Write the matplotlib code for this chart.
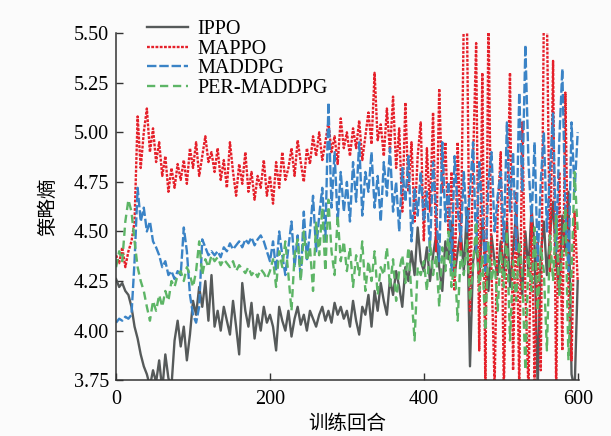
import numpy as np
import matplotlib
matplotlib.use("Agg")
import matplotlib.pyplot as plt

plt.rcParams['font.family'] = ['Liberation Serif', 'Noto Sans CJK SC']
plt.rcParams['axes.unicode_minus'] = False

# episodes, every 4th point
episodes = np.arange(0, 601, 4)

ippo = [4.26, 4.22, 4.24, 4.20, 4.18, 4.12,
        4.02, 3.96, 3.88, 3.82,
        3.78, 3.72, 3.80, 3.74, 3.85, 3.70, 3.88, 3.76, 3.72,
        3.95, 4.05, 3.92, 4.02, 3.85, 3.98,
        4.15, 4.08, 4.22, 4.12, 4.25, 4.05, 4.28,
        4.02, 4.10, 4.00, 4.12, 4.05, 3.98, 4.15, 4.02, 3.88, 4.24, 4.10, 4.02, 4.14, 3.96, 4.08, 4.00, 4.12, 4.04,
        4.08, 4.02, 3.90, 4.12, 4.05, 4.00, 4.10, 3.97, 4.06, 4.12, 4.03, 4.08, 4.00, 4.10, 4.06, 4.02, 4.08, 4.12, 4.05, 4.10, 4.04, 4.14, 4.08, 4.12, 4.06,
        4.10, 4.02, 4.15, 4.05, 3.98, 4.12, 4.08, 4.18, 4.02, 4.20, 4.10, 4.24, 4.15, 4.08, 4.26, 4.18, 4.30, 4.22, 4.12, 4.32, 4.25, 4.40, 4.28, 4.52, 4.35,
        4.30, 4.42, 4.25, 4.38, 4.48, 4.32, 4.20, 4.45, 4.36, 4.55, 4.28, 4.40, 4.50, 4.30, 4.62, 3.82, 4.35, 4.45, 4.25, 4.55, 4.38, 4.20, 4.48, 4.35, 4.28,
        4.45, 4.30, 4.55, 4.22, 4.40, 4.60, 4.35, 4.18, 4.50, 4.30, 4.62, 4.42, 3.70, 4.38, 4.55, 4.28, 4.48, 4.65, 4.35, 4.20, 4.58, 4.40, 4.70, 3.78, 3.70, 4.25]

mappo = [4.38, 4.34, 4.42, 4.32, 4.40, 4.45,
         4.55, 5.08, 4.82, 5.00,
         5.12, 4.90, 5.02, 4.85, 4.95, 4.78, 4.88, 4.70, 4.82,
         4.72, 4.84, 4.76, 4.86, 4.74, 4.92,
         4.82, 4.95, 4.78, 4.88, 4.98, 4.85, 4.90,
         4.80, 4.92, 4.76, 4.86, 4.72, 4.95, 4.80, 4.68, 4.84, 4.74, 4.90, 4.70, 4.80, 4.66, 4.78, 4.72, 4.86, 4.68,
         4.78, 4.64, 4.85, 4.72, 4.90, 4.76, 4.82, 4.92, 4.78, 4.96, 4.85, 4.75, 4.92, 4.84, 4.98, 4.88, 5.00, 4.86, 4.95, 5.05, 4.90, 4.98, 4.84, 5.07, 4.92,
         5.00, 4.88, 5.02, 4.92, 5.06, 4.86, 4.98, 5.10, 4.94, 5.30, 4.96, 5.04, 4.88, 5.12, 4.90, 5.18, 4.82, 5.02, 4.60, 5.15, 4.70, 4.95, 4.55, 4.88, 5.05,
         4.45, 4.92, 4.60, 5.10, 4.40, 5.22, 4.70, 4.95, 4.50, 4.80, 4.20, 4.95, 4.40, 5.60, 5.60, 4.10, 4.85, 5.45, 3.90, 5.30, 3.70, 5.60, 4.30, 3.72, 4.60,
         4.90, 3.70, 4.50, 5.30, 3.80, 4.70, 3.72, 5.05, 4.20, 3.70, 4.60, 3.75, 4.45, 3.80, 5.60, 5.60, 4.30, 5.36, 3.70, 4.80, 3.90, 5.20, 4.20, 3.85, 4.60, 4.25]

maddpg = [4.04, 4.06, 4.05, 4.07, 4.06, 4.08,
          4.35, 4.72, 4.55, 4.62,
          4.50, 4.55, 4.45, 4.42, 4.38, 4.32, 4.35, 4.28, 4.30,
          4.26, 4.30, 4.28, 4.52, 4.40, 4.18,
          4.08, 4.04, 4.12, 4.46, 4.42, 4.38, 4.40,
          4.38, 4.40, 4.37, 4.42, 4.40, 4.44, 4.41, 4.43, 4.45, 4.42, 4.46, 4.44, 4.47, 4.43, 4.46, 4.48, 4.45, 4.40,
          4.35, 4.45, 4.30, 4.50, 4.38, 4.28, 4.42, 4.55, 4.32, 4.48, 4.26, 4.60, 4.36, 4.50, 4.68, 4.40, 4.58, 4.72, 4.45, 5.15, 4.62, 4.90, 4.55, 4.80, 4.60,
          4.75, 4.55, 4.85, 4.65, 4.95, 4.58, 4.80, 4.70, 4.90, 4.62, 4.78, 4.55, 4.85, 4.68, 4.92, 4.60, 4.75, 4.50, 4.82, 4.65, 4.88, 4.45, 4.72, 4.58, 4.80,
          4.55, 4.70, 4.40, 4.85, 4.60, 4.35, 4.95, 4.55, 4.75, 4.30, 4.88, 4.62, 4.45, 4.80, 4.50, 4.70, 4.95, 4.40, 4.85, 4.60, 4.30, 4.75, 4.90, 4.50, 4.68,
          4.80, 4.45, 5.05, 4.60, 4.90, 4.40, 5.20, 4.70, 5.44, 4.85, 4.55, 4.95, 4.35, 4.75, 5.00, 4.50, 4.80, 5.10, 4.40, 4.95, 5.32, 4.60, 4.30, 5.05, 4.70, 5.00]

per_maddpg = [4.32, 4.40, 4.35, 4.55, 4.66, 4.60,
              4.45, 4.32, 4.25, 4.20,
              4.12, 4.05, 4.15, 4.10, 4.18, 4.12, 4.20, 4.15, 4.25,
              4.22, 4.28, 4.30, 4.25, 4.32, 4.28,
              4.22, 4.30, 4.45, 4.28, 4.36, 4.32, 4.38,
              4.35, 4.37, 4.33, 4.36, 4.34, 4.32, 4.35, 4.30, 4.33, 4.31, 4.29, 4.32, 4.28, 4.30, 4.27, 4.31, 4.29, 4.26,
              4.30, 4.36, 4.22, 4.40, 4.32, 4.45, 4.28, 4.10, 4.38, 4.46, 4.25, 4.50, 4.35, 4.42, 4.20, 4.55, 4.38, 4.62, 4.30, 4.66, 4.40, 4.28, 4.58, 4.35, 4.45,
              4.30, 4.42, 4.22, 4.38, 4.28, 4.45, 4.20, 4.35, 4.25, 4.40, 4.18, 4.32, 4.28, 4.42, 4.22, 4.36, 4.15, 4.30, 4.38, 4.24, 4.42, 4.18, 3.95, 4.32, 4.28,
              4.35, 4.20, 4.45, 4.28, 4.38, 4.12, 4.42, 4.30, 4.50, 4.22, 4.35, 4.05, 4.40, 4.28, 4.46, 4.15, 4.32, 4.55, 4.20, 4.38, 4.00, 4.45, 4.25, 4.35, 4.10,
              4.40, 4.22, 4.50, 3.95, 4.35, 4.15, 4.45, 4.28, 3.80, 4.38, 4.20, 4.52, 4.10, 4.42, 4.30, 3.90, 4.48, 4.25, 4.58, 4.18, 4.40, 4.62, 3.85, 4.30, 4.80, 4.50]

fig = plt.figure(figsize=(6.11, 4.36), dpi=100, facecolor='#fbfbfb')
ax = fig.add_axes([0.19, 0.128, 0.758, 0.796])
ax.set_facecolor('#fbfbfb')

ax.plot(episodes, ippo, color='#565a5a', lw=1.7, ls='-', label='IPPO')
ax.plot(episodes, mappo, color='#e5202a', lw=1.7, ls=(0, (1.2, 0.6)), label='MAPPO')
ax.plot(episodes, maddpg, color='#3a83c6', lw=1.7, ls=(0, (4, 1.2)), label='MADDPG')
ax.plot(episodes, per_maddpg, color='#5db566', lw=1.7, ls=(0, (3.5, 2)), label='PER-MADDPG')

ax.set_xlim(0, 602)
ax.set_ylim(3.75, 5.5)
ax.set_xticks([0, 200, 400, 600])
ax.set_yticks(np.arange(3.75, 5.51, 0.25))
ax.yaxis.set_major_formatter(matplotlib.ticker.FormatStrFormatter('%.2f'))
ax.tick_params(direction='in', labelsize=14.5, length=5, width=1, color='#333333')
ax.tick_params(axis='x', pad=7)
ax.tick_params(axis='y', pad=5)
ax.spines['top'].set_visible(False)
ax.spines['right'].set_visible(False)
for side in ('left', 'bottom'):
    ax.spines[side].set_linewidth(1.1)
    ax.spines[side].set_color('#333333')

ax.set_xlabel('训练回合', fontsize=14, labelpad=4)
ax.set_ylabel('策略熵', fontsize=14, labelpad=12)

ax.legend(loc='upper left', bbox_to_anchor=(0.05, 1.06), frameon=False, fontsize=14.5,
          handlelength=2.0, labelspacing=0.02, borderaxespad=0, handletextpad=0.5)

fig.savefig('out.png', dpi=100, facecolor=fig.get_facecolor())
